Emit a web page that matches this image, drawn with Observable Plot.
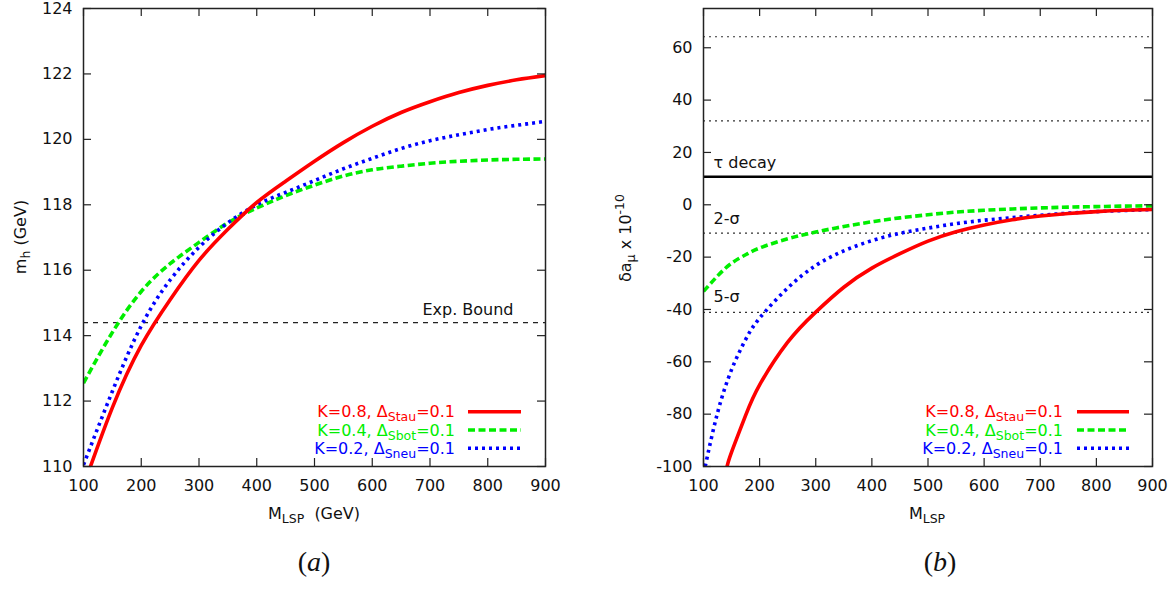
<!DOCTYPE html>
<html><head><meta charset="utf-8">
<script src="https://cdn.jsdelivr.net/npm/d3@7"></script>
<script src="https://cdn.jsdelivr.net/npm/@observablehq/plot@0.6"></script>
<style>
body{margin:0;background:#fff;width:1174px;height:591px;position:relative;overflow:hidden;font-family:"DejaVu Sans",sans-serif}
.panel{position:absolute;top:0}
.cap{position:absolute;top:546px;font-family:"Liberation Serif","DejaVu Serif",serif;font-size:28px;color:#111;transform:translateX(-50%)}
</style></head><body>
<div id="pa" class="panel" style="left:0"></div>
<div id="pb" class="panel" style="left:587px"></div>
<div class="cap" style="left:314px">(<i>a</i>)</div>
<div class="cap" style="left:940px">(<i>b</i>)</div>
<script>
// ---------- data ----------
const xTicks = [100,200,300,400,500,600,700,800,900];
const mhTicks = [110,112,114,116,118,120,122,124];
const daTicks = [-100,-80,-60,-40,-20,0,20,40,60];

// panel (a): m_h vs M_LSP
const mA = [100,150,200,250,300,350,400,450,500,550,600,650,700,750,800,850,900];
const mhStau = [109.4,111.8,113.7,115.1,116.3,117.25,118.07,118.72,119.33,119.9,120.4,120.82,121.15,121.43,121.65,121.82,121.95];
const mhSbot = [112.55,114.1,115.35,116.2,116.85,117.45,117.9,118.28,118.6,118.88,119.07,119.18,119.27,119.33,119.37,119.39,119.4];
const mhSneu = [110.05,112.3,114.3,115.7,116.7,117.45,118.0,118.38,118.74,119.1,119.42,119.72,119.96,120.14,120.3,120.43,120.55];
const expBound = 114.4;

// panel (b): delta a_mu vs M_LSP
const mStauB = [142,150,175,200,250,300,350,400,450,500,550,600,650,700,750,800,850,900];
const daStau = [-100,-94.5,-80.5,-68.8,-52.5,-41,-31.5,-24.2,-18.7,-13.9,-10.3,-7.7,-5.7,-4.3,-3.3,-2.6,-2.1,-1.8];
const mSneuB = [103,125,150,175,200,250,300,350,400,450,500,550,600,650,700,750,800,850,900];
const daSneu = [-100,-79.5,-63,-51.5,-43.3,-31.8,-23.2,-17.6,-13.7,-10.9,-8.9,-7.2,-5.9,-4.9,-4.0,-3.2,-2.6,-2.2,-1.8];
const mSbotB = [100,125,150,175,200,250,300,350,400,450,500,550,600,650,700,750,800,850,900];
const daSbot = [-33.1,-27.2,-22.3,-19.1,-16.5,-13,-10.4,-8.3,-6.5,-5.0,-3.8,-2.8,-2.1,-1.6,-1.2,-0.9,-0.7,-0.5,-0.4];
const tauDecay = 10.7;
const sigmaLines = [64.2, 32.1, -10.8, -41.1];
const sigmaLabels = [{t:"2-\u03c3", v:-5.3}, {t:"5-\u03c3", v:-35.3}];

const legendRows = [
  {k:"K=0.8, \u0394", s:"Stau", color:"#ff0000", dash:null},
  {k:"K=0.4, \u0394", s:"Sbot", color:"#00ee00", dash:"7,3.5"},
  {k:"K=0.2, \u0394", s:"Sneu", color:"#0000ff", dash:"3,4"}
];
const series = (xs, ys) => xs.map((x,i)=>({x, y: ys[i]}));

// ---------- helpers ----------
const FONT = '"DejaVu Sans", sans-serif';
const H = 540, W = 587;
function frameTicks(xt, yt, fw, fh, L=8){
  return [
    Plot.tickX(xt, {x: d=>d, insetTop: fh-L, stroke:"#222", strokeWidth:1.2}),
    Plot.tickX(xt, {x: d=>d, insetBottom: fh-L, stroke:"#222", strokeWidth:1.2}),
    Plot.tickY(yt, {y: d=>d, insetRight: fw-L, stroke:"#222", strokeWidth:1.2}),
    Plot.tickY(yt, {y: d=>d, insetLeft: fw-L, stroke:"#222", strokeWidth:1.2})
  ];
}
function curves(list){
  return list.map(([data, row]) => Plot.line(data, {x:"x", y:"y", stroke: row.color, strokeWidth: 3.6,
    strokeDasharray: row.dash || undefined, curve:"natural", clip:true, strokeLinecap:"butt"}));
}
function addLegend(svg, xEnd, lx1, lx2, y0){
  const g = d3.select(svg).append("g").attr("font-family", FONT).attr("font-size", 16);
  legendRows.forEach((r,i)=>{
    const y = y0 + i*18.3;
    const t = g.append("text").attr("x", xEnd).attr("y", y+5.5).attr("text-anchor","end").attr("fill", r.color);
    t.append("tspan").text(r.k);
    t.append("tspan").attr("font-size",12.5).attr("dy",4).text(r.s);
    t.append("tspan").attr("dy",-4).text("=0.1");
    g.append("line").attr("x1",lx1).attr("x2",lx2).attr("y1",y).attr("y2",y)
      .attr("stroke", r.color).attr("stroke-width",3.6).attr("stroke-dasharray", r.dash || null);
  });
}

// ---------- panel (a) ----------
{
  const mL=83, mR=42, mT=8, mB=74;
  const fw = W-mL-mR, fh = H-mT-mB;
  const svg = Plot.plot({
    width: W, height: H, marginLeft: mL, marginRight: mR, marginTop: mT, marginBottom: mB,
    style: {fontFamily: FONT, fontSize: "16px", color:"#111", background:"transparent"},
    x: {domain:[100,900]},
    y: {domain:[110,124]},
    marks: [
      Plot.ruleY([expBound], {stroke:"#222", strokeWidth:1.2, strokeDasharray:"5,5"}),
      Plot.text([expBound], {y: d=>d, x: 900, text: ()=>"Exp. Bound", textAnchor:"end", dx:-32, dy:-13, fontSize:16, fill:"#111"}),
      ...curves([
        [series(mA, mhSbot), legendRows[1]],
        [series(mA, mhSneu), legendRows[2]],
        [series(mA, mhStau), legendRows[0]]
      ]),
      ...frameTicks(xTicks, mhTicks, fw, fh),
      Plot.axisX(xTicks, {tickSize:0, tickPadding:13, label:null, fontSize:16}),
      Plot.axisY(mhTicks, {tickSize:0, tickPadding:11, label:null, fontSize:16}),
      Plot.frame({stroke:"#222", strokeWidth:1.5})
    ]
  });
  document.getElementById("pa").appendChild(svg);
  const s = d3.select(svg);
  const yl = s.append("text").attr("transform","translate(26,237) rotate(-90)").attr("text-anchor","middle")
    .attr("font-family",FONT).attr("font-size",16).attr("fill","#111");
  yl.append("tspan").text("m");
  yl.append("tspan").attr("font-size",12.5).attr("dy",4).text("h");
  yl.append("tspan").attr("dy",-4).text(" (GeV)");
  const xl = s.append("text").attr("x",314).attr("y",519).attr("text-anchor","middle")
    .attr("font-family",FONT).attr("font-size",16).attr("fill","#111");
  xl.append("tspan").text("M");
  xl.append("tspan").attr("font-size",12.5).attr("dy",4).text("LSP");
  xl.append("tspan").attr("dy",-4).text("\u00a0 (GeV)");
  addLegend(svg, 455, 468, 521, 411.7);
}

// ---------- panel (b) ----------
{
  const mL=116, mR=22, mT=8, mB=74;
  const fw = W-mL-mR, fh = H-mT-mB;
  const svg = Plot.plot({
    width: W, height: H, marginLeft: mL, marginRight: mR, marginTop: mT, marginBottom: mB,
    style: {fontFamily: FONT, fontSize: "16px", color:"#111", background:"transparent"},
    x: {domain:[100,900]},
    y: {domain:[-100,75]},
    marks: [
      Plot.ruleY(sigmaLines, {stroke:"#333", strokeWidth:1.2, strokeDasharray:"2,4"}),
      Plot.ruleY([tauDecay], {stroke:"#000", strokeWidth:2.4}),
      Plot.text([tauDecay], {y: d=>d, x: 100, text: ()=>"\u03c4 decay", textAnchor:"start", dx:10, dy:-14, fontSize:16, fill:"#111"}),
      Plot.text(sigmaLabels, {y: "v", x: 100, text: "t", textAnchor:"start", dx:10, fontSize:16, fill:"#111"}),
      ...curves([
        [series(mSbotB, daSbot), legendRows[1]],
        [series(mSneuB, daSneu), legendRows[2]],
        [series(mStauB, daStau), legendRows[0]]
      ]),
      ...frameTicks(xTicks, daTicks, fw, fh),
      Plot.axisX(xTicks, {tickSize:0, tickPadding:13, label:null, fontSize:16}),
      Plot.axisY(daTicks, {tickSize:0, tickPadding:11, label:null, fontSize:16, tickFormat: d=>String(d)}),
      Plot.frame({stroke:"#222", strokeWidth:1.5})
    ]
  });
  document.getElementById("pb").appendChild(svg);
  const s = d3.select(svg);
  const yl = s.append("text").attr("transform","translate(44,238) rotate(-90)").attr("text-anchor","middle")
    .attr("font-family",FONT).attr("font-size",16).attr("fill","#111");
  yl.append("tspan").text("\u03b4a");
  yl.append("tspan").attr("font-size",12.5).attr("dy",4).text("\u03bc");
  yl.append("tspan").attr("dy",-4).text(" x 10");
  yl.append("tspan").attr("font-size",12.5).attr("dy",-7).text("-10");
  const xl = s.append("text").attr("x",340).attr("y",519).attr("text-anchor","middle")
    .attr("font-family",FONT).attr("font-size",16).attr("fill","#111");
  xl.append("tspan").text("M");
  xl.append("tspan").attr("font-size",12.5).attr("dy",4).text("LSP");
  addLegend(svg, 476, 490, 542, 411.7);
}
</script>
</body></html>
